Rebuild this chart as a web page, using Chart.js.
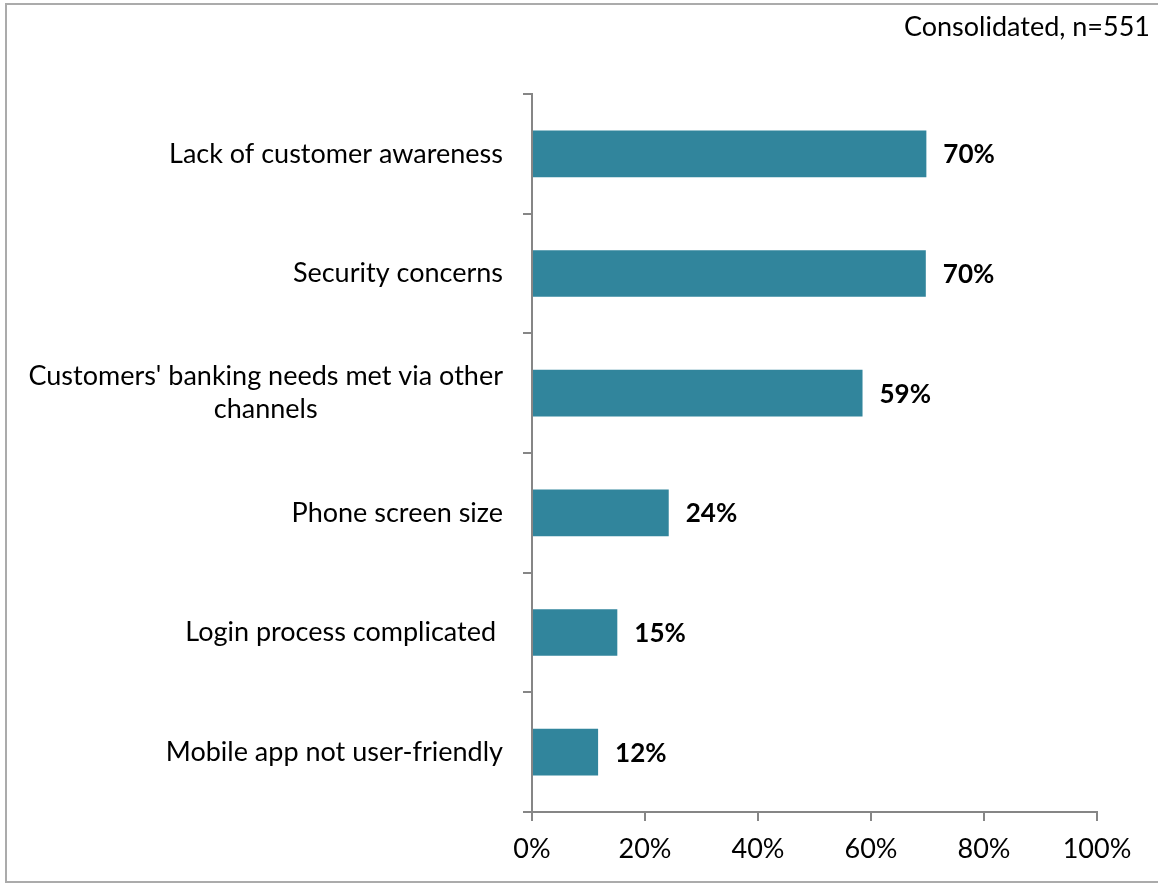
<!DOCTYPE html>
<html>
<head>
<meta charset="utf-8">
<script src="https://cdn.jsdelivr.net/npm/chart.js@4"></script>
<style>
  body { margin: 0; background: #fff; }
  #frame { position: absolute; left: 5px; top: 3px; width: 1170px; height: 876px; border: 2px solid #ababab; }
  #grafico { position: absolute; left: 0; top: 0; }
</style>
</head>
<body>
<div id="frame"></div>
<canvas id="grafico" width="1158" height="884"></canvas>
<script>
// Dados do gráfico
const categorias = [
  ['Lack of customer awareness'],
  ['Security concerns'],
  ["Customers' banking needs met via other", 'channels'],
  ['Phone screen size'],
  ['Login process complicated '],
  ['Mobile app not user-friendly']
];
const valores = [69.8, 69.7, 58.5, 24.2, 15.1, 11.7];
const rotulos = ['70%', '70%', '59%', '24%', '15%', '12%'];
const ticksX = [0, 20, 40, 60, 80, 100];
const titulo = 'Consolidated, n=551';

const fonte = 'Lato, "Open Sans", sans-serif';
const corEixo = '#868686';

// Rótulos das categorias (linhas centralizadas entre si, bloco alinhado à direita)
const rotulosCategorias = {
  id: 'rotulosCategorias',
  afterDraw(chart) {
    const { ctx, chartArea, scales: { y } } = chart;
    ctx.save();
    ctx.font = '27px ' + fonte;
    ctx.fillStyle = '#000';
    ctx.textAlign = 'center';
    ctx.textBaseline = 'middle';
    categorias.forEach((linhas, i) => {
      const yc = y.getPixelForValue(i);
      const larg = Math.max(...linhas.map(l => ctx.measureText(l).width));
      const cx = chartArea.left - 29 - larg / 2;
      linhas.forEach((l, k) => {
        ctx.fillText(l, cx, yc + (k - (linhas.length - 1) / 2) * 33);
      });
    });
    ctx.restore();
  }
};

// Valores ao lado das barras
const rotulosValores = {
  id: 'rotulosValores',
  afterDatasetsDraw(chart) {
    const { ctx } = chart;
    ctx.save();
    ctx.font = 'bold 26px ' + fonte;
    ctx.fillStyle = '#000';
    ctx.textAlign = 'left';
    ctx.textBaseline = 'middle';
    chart.getDatasetMeta(0).data.forEach((barra, i) => {
      ctx.fillText(rotulos[i], barra.x + 17, barra.y + 1);
    });
    ctx.restore();
  }
};

const grafico = new Chart(document.getElementById('grafico').getContext('2d'), {
  type: 'bar',
  data: {
    labels: categorias,
    datasets: [{
      data: valores,
      backgroundColor: '#31859C',
      borderWidth: 0,
      barPercentage: 0.39,
      categoryPercentage: 1
    }]
  },
  options: {
    indexAxis: 'y',
    responsive: false,
    animation: false,
    layout: { padding: { left: 0, right: 8, top: 0, bottom: 0 } },
    plugins: {
      legend: { display: false },
      tooltip: { enabled: false },
      title: {
        display: true,
        text: titulo,
        align: 'end',
        color: '#000',
        font: { family: fonte, size: 27, weight: 'normal' },
        padding: { top: 11, bottom: 50.6 }
      }
    },
    scales: {
      x: {
        min: 0,
        max: 100,
        afterBuildTicks: s => { s.ticks = ticksX.map(v => ({ value: v })); },
        afterFit: s => { s.height = 72; s.paddingRight = 61; },
        ticks: {
          callback: v => v + '%',
          color: '#000',
          font: { family: fonte, size: 27 },
          padding: 12,
          maxRotation: 0
        },
        grid: { drawOnChartArea: false, tickLength: 9, color: corEixo, lineWidth: 2 },
        border: { color: corEixo, width: 2 }
      },
      y: {
        afterFit: s => { s.width = 532; },
        ticks: { display: false },
        grid: { offset: true, drawOnChartArea: false, tickLength: 9, color: corEixo, lineWidth: 2 },
        border: { color: corEixo, width: 2 }
      }
    }
  },
  plugins: [rotulosCategorias, rotulosValores]
});
</script>
</body>
</html>
